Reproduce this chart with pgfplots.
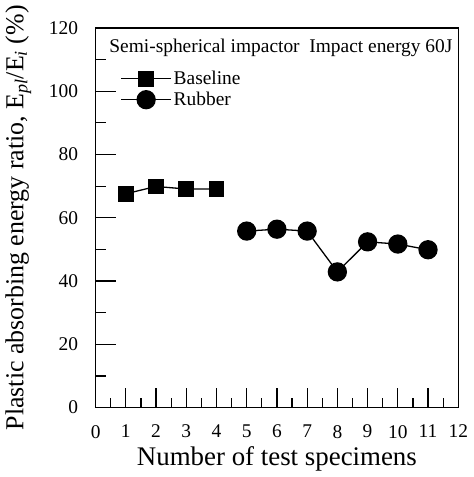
\documentclass[border=2bp]{standalone}
\usepackage{fontspec}
\setmainfont{Liberation Serif}
\usepackage{pgfplots}
\pgfplotsset{compat=1.18}

\begin{document}
\begin{tikzpicture}
\begin{axis}[
  scale only axis,
  width=363bp, height=380bp,
  xmin=0, xmax=12, ymin=0, ymax=120,
  xtick={0,1,...,12}, ytick={0,20,...,120},
  minor x tick num=1, minor y tick num=1,
  tick pos=left, tick align=inside,
  major tick length=20bp, minor tick length=10bp,
  axis line style={line width=1.1bp},
  major tick style={black, line width=1.2bp},
  minor tick style={black, line width=1.2bp},
  /pgf/number format/assume math mode=true,
  tick label style={font=\fontsize{19.5}{24}\selectfont},
  xticklabel style={yshift=-14bp},
  yticklabel style={xshift=-14bp},
  xlabel={Number of test specimens},
  ylabel={Plastic absorbing energy ratio, E\textsubscript{\textit{pl}}/E\textsubscript{\textit{i}} (\%)},
  xlabel style={font=\fontsize{27}{32}\selectfont, yshift=-2bp},
  ylabel style={font=\fontsize{26}{31}\selectfont, yshift=11bp},
  legend style={at={(axis cs:0.82,107)}, anchor=north west, draw=none, fill=none,
    font=\fontsize{19.5}{22}\selectfont, row sep=2bp, inner sep=0pt},
  legend cell align=left,
  legend image code/.code={\draw[mark repeat=2,mark phase=2] plot coordinates {(0cm,0cm) (0.88cm,0cm) (1.76cm,0cm)};},
]
\addplot[black, line width=1.3bp, mark=square*, mark size=7.3bp, mark options={solid}]
  coordinates {(1,67.6)(2,69.9)(3,69.1)(4,69.1)};
\addplot[black, line width=1.3bp, mark=*, mark size=9bp, mark options={solid}]
  coordinates {(5,55.8)(6,56.4)(7,55.8)(8,42.9)(9,52.4)(10,51.7)(11,49.9)};
\legend{Baseline, Rubber}
\node[anchor=west, inner sep=0pt, font=\fontsize{19.5}{22}\selectfont] at (axis cs:0.45,113.7)
  {Semi-spherical impactor\ \ Impact energy 60J};
\end{axis}
\end{tikzpicture}
\end{document}
